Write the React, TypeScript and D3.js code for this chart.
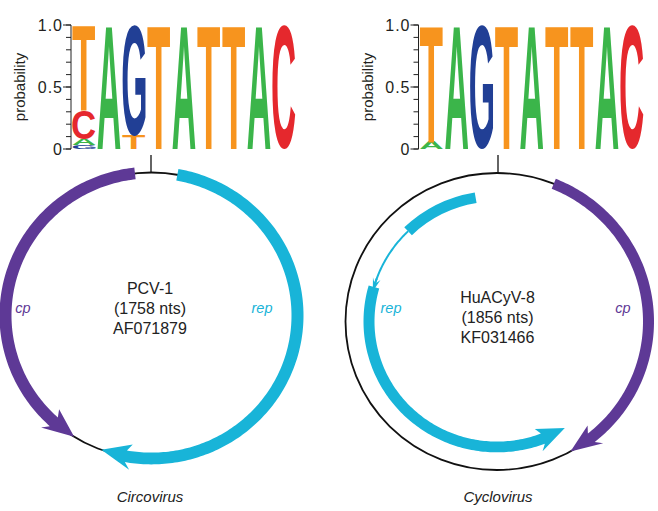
import React, { useMemo } from 'react';
import * as d3 from 'd3';

// ---------- data ----------
const logoSequence = ['T', 'A', 'G', 'T', 'A', 'T', 'T', 'A', 'C'];
// letter stacks, bottom to top: [letter, probability]
const pcvColumns: [string, number][][] = [
  [['G', 0.03], ['A', 0.05], ['C', 0.23], ['T', 0.69]],
  [['A', 1.0]],
  [['T', 0.11], ['G', 0.89]],
  [['T', 1.0]],
  [['A', 1.0]],
  [['T', 1.0]],
  [['T', 1.0]],
  [['A', 1.0]],
  [['C', 1.0]],
];
const cyvColumns: [string, number][][] = [
  [['A', 0.06], ['T', 0.94]],
  [['A', 1.0]],
  [['G', 1.0]],
  [['T', 1.0]],
  [['A', 1.0]],
  [['T', 1.0]],
  [['T', 1.0]],
  [['A', 1.0]],
  [['C', 1.0]],
];
const majorTicks = [0, 0.5, 1.0];
const majorTickLabels = ['0', '0.5', '1.0'];
const minorTicks = [0, 0.1, 0.2, 0.3, 0.4, 0.5, 0.6, 0.7, 0.8, 0.9, 1.0];

// genome maps: angles in degrees clockwise from the origin (top)
const pcvLabels = ['PCV-1', '(1758 nts)', 'AF071879'];
const cyvLabels = ['HuACyV-8', '(1856 nts)', 'KF031466'];
const pcvCp = { tail: 353.5, tip: 212 };
const pcvRep = { tail: 10.2, tip: 200.1 };
const cyvCp = { tail: 22, tip: 151 };
const cyvRepExon1 = { from: 350.4, to: 316 };
const cyvRepIntron = { from: 316, to: 284 };
const cyvRepExon2 = { tail: 286, tip: 148 };
const genusLabels = ['Circovirus', 'Cyclovirus'];

// ---------- styles ----------
const COLORS: Record<string, string> = {
  T: '#f7941e',
  A: '#3bb54a',
  G: '#213f95',
  C: '#e5282d',
};
const PURPLE = '#5e3996';
const CYAN = '#18b4d8';
const SANS = "'Liberation Sans', Arial, Helvetica, sans-serif";

function useGlyphMetrics() {
  return useMemo(() => {
    const fallback: Record<string, { l: number; r: number; a: number; d: number }> = {
      T: { l: -2.2, r: 58.9, a: 71.6, d: 0 },
      A: { l: 0, r: 72.2, a: 71.6, d: 0 },
      G: { l: -4.3, r: 73.3, a: 72.8, d: 1.2 },
      C: { l: -4.6, r: 68.3, a: 72.8, d: 1.2 },
    };
    try {
      const c = document.createElement('canvas');
      const ctx = c.getContext('2d');
      if (!ctx) return fallback;
      ctx.font = `bold 100px ${SANS}`;
      const res: typeof fallback = {};
      for (const L of ['T', 'A', 'G', 'C']) {
        const m = ctx.measureText(L);
        if (!m.actualBoundingBoxAscent) return fallback;
        res[L] = {
          l: m.actualBoundingBoxLeft,
          r: m.actualBoundingBoxRight,
          a: m.actualBoundingBoxAscent,
          d: m.actualBoundingBoxDescent,
        };
      }
      return res;
    } catch (e) {
      return fallback;
    }
  }, []);
}

function Logo({ columns, axisX, x0, x1, metrics }: any) {
  const y = d3.scaleLinear().domain([0, 1]).range([149, 25]);
  const x = d3
    .scaleBand<number>()
    .domain(d3.range(columns.length))
    .range([x0, x1])
    .paddingInner(0.08)
    .paddingOuter(0.02);
  const glyphs: any[] = [];
  columns.forEach((col: [string, number][], i: number) => {
    let cum = 0;
    col.forEach(([L, p], j) => {
      const top = y(cum + p);
      const bot = y(cum);
      cum += p;
      const m = metrics[L];
      const w = x.bandwidth();
      const h = bot - top;
      const sx = w / (m.l + m.r);
      const sy = h / (m.a + m.d);
      glyphs.push(
        <text
          key={`${i}-${j}`}
          transform={`translate(${x(i)! + m.l * sx},${top + m.a * sy}) scale(${sx},${sy})`}
          fontFamily={SANS}
          fontWeight="bold"
          fontSize={100}
          fill={COLORS[L]}
        >
          {L}
        </text>
      );
    });
  });
  return (
    <g>
      {glyphs}
      <line x1={axisX} x2={axisX} y1={y(0)} y2={y(1)} stroke="#222" strokeWidth={1} />
      {minorTicks.map((t) => (
        <line key={'m' + t} x1={axisX - 5} x2={axisX} y1={y(t)} y2={y(t)} stroke="#222" strokeWidth={1} />
      ))}
      {majorTicks.map((t, i) => (
        <g key={'M' + t}>
          <line x1={axisX - 8} x2={axisX} y1={y(t)} y2={y(t)} stroke="#222" strokeWidth={1} />
          <text
            x={axisX - 8}
            y={y(t)}
            dy="0.36em"
            textAnchor="end"
            fontFamily={SANS}
            fontSize={16}
            letterSpacing={1}
            fill="#231f20"
          >
            {majorTickLabels[i]}
          </text>
        </g>
      ))}
      <text
        transform={`translate(${axisX - 51},${y(0.5)}) rotate(-90)`}
        textAnchor="middle"
        dy="0.35em"
        fontFamily={SANS}
        fontSize={15}
        fill="#231f20"
      >
        probability
      </text>
    </g>
  );
}

function pt(R: number, deg: number): [number, number] {
  const t = (deg * Math.PI) / 180;
  return [R * Math.sin(t), -R * Math.cos(t)];
}

function arrowPath(R: number, w: number, a0: number, a1: number, headDeg: number, headW: number) {
  const dir = a1 > a0 ? 1 : -1;
  const ab = a1 - dir * headDeg;
  const n = Math.max(2, Math.ceil(Math.abs(ab - a0)) + 1);
  const angles = d3.range(n).map((i) => a0 + ((ab - a0) * i) / (n - 1));
  const outer = angles.map((a) => pt(R + w / 2, a));
  const inner = angles
    .slice()
    .reverse()
    .map((a) => pt(R - w / 2, a));
  const pts: [number, number][] = [
    ...outer,
    pt(R + headW / 2, ab - dir * 2),
    pt(R, a1),
    pt(R - headW / 2, ab - dir * 2),
    ...inner,
  ];
  return (d3.line()(pts) as string) + 'Z';
}

const rad = (d: number) => (d * Math.PI) / 180;

export default function App() {
  const metrics = useGlyphMetrics();

  // left genome
  const L = { cx: 151.5, cy: 315.5, rx: 146, ry: 143 };
  // right genome
  const Rg = { cx: 497, cy: 321.5, rx: 151.5, ry: 148.5 };
  const repR = 128;

  const exon1 = d3
    .arc()
    .innerRadius(repR - 5.5)
    .outerRadius(repR + 5.5)
    .startAngle(rad(cyvRepExon1.to))
    .endAngle(rad(cyvRepExon1.from))({} as any) as string;
  const intronPts = d3
    .range(0, 41)
    .map((i) => pt(repR, cyvRepIntron.from + ((cyvRepIntron.to + 3 - cyvRepIntron.from) * i) / 40));

  return (
    <svg
      width={658}
      height={511}
      style={{ position: 'absolute', left: 0, top: 0, background: '#fff' }}
    >
      <rect width={658} height={511} fill="#fff" />
      <Logo columns={pcvColumns} axisX={71} x0={72} x1={296} metrics={metrics} />
      <Logo columns={cyvColumns} axisX={418.5} x0={419.5} x1={644} metrics={metrics} />

      {/* left genome: PCV-1 */}
      <line x1={151} x2={151} y1={155} y2={L.cy - L.ry} stroke="#111" strokeWidth={1.3} />
      <g transform={`translate(${L.cx},${L.cy}) scale(1,${L.ry / L.rx})`}>
        <circle r={L.rx} fill="none" stroke="#111" strokeWidth={1.8} />
        <path d={arrowPath(L.rx, 12, pcvCp.tail, pcvCp.tip, 10, 26)} fill={PURPLE} />
        <path d={arrowPath(L.rx, 12, pcvRep.tail, pcvRep.tip, 10, 26)} fill={CYAN} />
      </g>
      <g fontFamily={SANS} fontSize={16} fill="#222" textAnchor="middle">
        {pcvLabels.map((t, i) => (
          <text key={t} x={150} y={294 + i * 20}>
            {t}
          </text>
        ))}
      </g>
      <text x={23} y={313} fontFamily={SANS} fontSize={14.5} fontStyle="italic" fill={PURPLE} textAnchor="middle">
        cp
      </text>
      <text x={262} y={313} fontFamily={SANS} fontSize={14.5} fontStyle="italic" fill={CYAN} textAnchor="middle">
        rep
      </text>
      <text x={150} y={502} fontFamily={SANS} fontSize={15} fontStyle="italic" fill="#222" textAnchor="middle">
        {genusLabels[0]}
      </text>

      {/* right genome: HuACyV-8 */}
      <line x1={498} x2={498} y1={155} y2={Rg.cy - Rg.ry} stroke="#111" strokeWidth={1.3} />
      <g transform={`translate(${Rg.cx},${Rg.cy}) scale(1,${Rg.ry / Rg.rx})`}>
        <circle r={Rg.rx} fill="none" stroke="#111" strokeWidth={1.8} />
        <path d={arrowPath(Rg.rx, 11, cyvCp.tail, cyvCp.tip, 9.5, 24)} fill={PURPLE} />
        <path d={exon1} fill={CYAN} />
        <path d={d3.line()(intronPts) as string} fill="none" stroke={CYAN} strokeWidth={2} />
        <path d={arrowPath(repR, 2, cyvRepIntron.to + 6, cyvRepIntron.to, 4, 8)} fill={CYAN} />
        <path d={arrowPath(repR, 11, cyvRepExon2.tail, cyvRepExon2.tip, 11, 24)} fill={CYAN} />
      </g>
      <g fontFamily={SANS} fontSize={16} fill="#222" textAnchor="middle">
        {cyvLabels.map((t, i) => (
          <text key={t} x={497.5} y={303 + i * 20}>
            {t}
          </text>
        ))}
      </g>
      <text x={391} y={313} fontFamily={SANS} fontSize={14.5} fontStyle="italic" fill={CYAN} textAnchor="middle">
        rep
      </text>
      <text x={623} y={313} fontFamily={SANS} fontSize={14.5} fontStyle="italic" fill={PURPLE} textAnchor="middle">
        cp
      </text>
      <text x={498} y={502} fontFamily={SANS} fontSize={15} fontStyle="italic" fill="#222" textAnchor="middle">
        {genusLabels[1]}
      </text>
    </svg>
  );
}
